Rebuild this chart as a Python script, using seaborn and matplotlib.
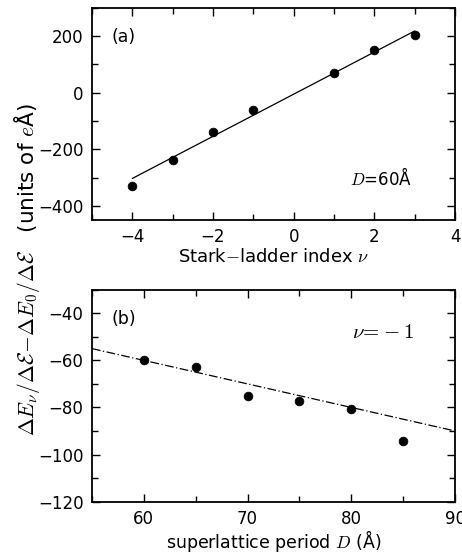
import matplotlib
matplotlib.use("Agg")
import matplotlib.pyplot as plt
from matplotlib.ticker import MultipleLocator
import pandas as pd
import seaborn as sns

# panel (a): Stark-ladder index vs. value, D = 60 A
nu_index = [-4, -3, -2, -1, 1, 2, 3]
dipole_a = [-329, -237, -138, -60, 70, 152, 205]
fit_a_x = [-4, 3]
fit_a_y = [-303, 218]

# panel (b): superlattice period vs. value, nu = -1
period_d = [60, 65, 70, 75, 80, 85]
dipole_b = [-60, -63, -75.3, -77.2, -80.8, -94.2]
fit_b_x = [55, 90]
fit_b_y = [-55, -90]

sns.set_style("ticks")
plt.rcParams["font.family"] = ["DejaVu Sans"]
plt.rcParams["mathtext.fontset"] = "cm"
plt.rcParams["xtick.direction"] = "in"
plt.rcParams["ytick.direction"] = "in"
plt.rcParams["axes.linewidth"] = 1.3
plt.rcParams["text.color"] = "black"
plt.rcParams["axes.labelcolor"] = "black"
plt.rcParams["xtick.color"] = "black"
plt.rcParams["ytick.color"] = "black"
plt.rcParams["axes.edgecolor"] = "black"

fig = plt.figure(figsize=(4.62, 5.53), dpi=100)
ax_a = fig.add_axes([0.199, 0.602, 0.786, 0.384])
ax_b = fig.add_axes([0.199, 0.093, 0.786, 0.383])

df_a = pd.DataFrame({"nu": nu_index, "val": dipole_a})
df_b = pd.DataFrame({"D": period_d, "val": dipole_b})

sns.lineplot(x=fit_a_x, y=fit_a_y, ax=ax_a, color="black", linewidth=0.9)
sns.scatterplot(data=df_a, x="nu", y="val", ax=ax_a, color="black", s=40,
                edgecolor="black", zorder=3)

sns.lineplot(x=fit_b_x, y=fit_b_y, ax=ax_b, color="black", linewidth=0.9,
             dashes=False)
ax_b.lines[0].set_dashes([7, 2, 1, 2])
sns.scatterplot(data=df_b, x="D", y="val", ax=ax_b, color="black", s=40,
                edgecolor="black", zorder=3)

ax_a.set_xlim(-5, 4)
ax_a.set_ylim(-450, 300)
ax_a.xaxis.set_major_locator(MultipleLocator(2))
ax_a.xaxis.set_minor_locator(MultipleLocator(1))
ax_a.yaxis.set_major_locator(MultipleLocator(200))
ax_a.yaxis.set_minor_locator(MultipleLocator(100))
ax_a.set_xlabel(r"Stark$-$ladder index $\nu$", fontsize=13, labelpad=1)
ax_a.set_ylabel("")
ax_a.text(0.055, 0.86, "(a)", transform=ax_a.transAxes, fontsize=12.5, va="center")
ax_a.text(0.71, 0.2, r"$D$=60Å", transform=ax_a.transAxes, fontsize=12, va="center")

ax_b.set_xlim(55, 90)
ax_b.set_ylim(-120, -30)
ax_b.xaxis.set_major_locator(MultipleLocator(10))
ax_b.xaxis.set_minor_locator(MultipleLocator(5))
ax_b.yaxis.set_major_locator(MultipleLocator(20))
ax_b.yaxis.set_minor_locator(MultipleLocator(10))
ax_b.set_xlabel(r"superlattice period $D$ (Å)", fontsize=12.5, labelpad=0)
ax_b.set_ylabel("")
ax_b.text(0.055, 0.86, "(b)", transform=ax_b.transAxes, fontsize=12.5, va="center")
ax_b.text(0.715, 0.80, r"$\nu\!=\!-1$", transform=ax_b.transAxes, fontsize=15, va="center")

for ax in (ax_a, ax_b):
    ax.tick_params(which="both", top=True, right=True, labelsize=12, width=1.0)
    ax.tick_params(which="major", length=6, pad=6)
    ax.tick_params(which="minor", length=4)
    for side in ("top", "right"):
        ax.spines[side].set_visible(True)

fig.text(0.058, 0.512,
         r"$\Delta E_\nu/\Delta\mathcal{E}\!-\!\Delta E_0/\Delta\mathcal{E}$   (units of $e$Å)",
         rotation=90, ha="center", va="center", fontsize=15.5)

fig.savefig("out.png", dpi=100)
